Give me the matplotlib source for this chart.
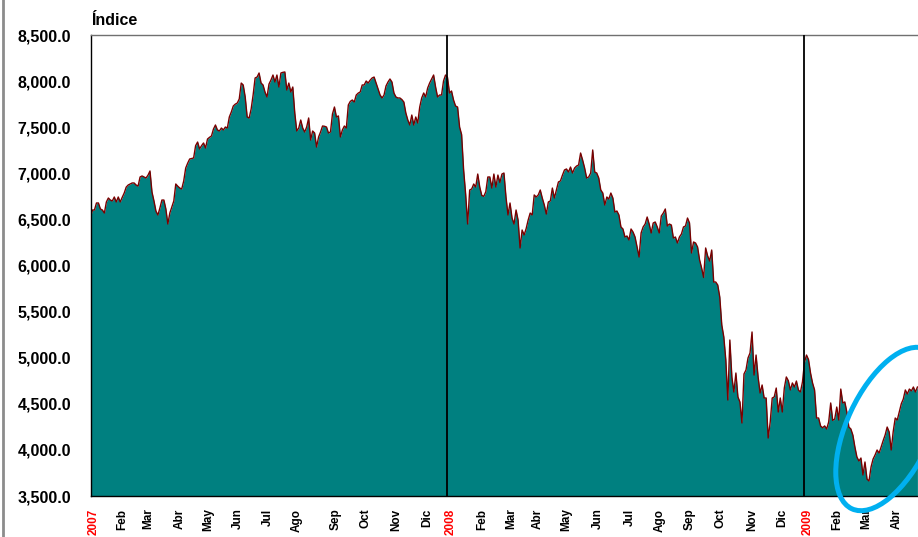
import numpy as np
import matplotlib
matplotlib.use("Agg")
import matplotlib.pyplot as plt
from matplotlib.patches import Ellipse
from matplotlib.lines import Line2D

plt.rcParams["font.family"] = ["Liberation Sans", "DejaVu Sans"]
plt.rcParams["font.weight"] = "bold"

# index level, read every ~2 px off the original chart
vals_2007 = [
    6526, 6602, 6602, 6678, 6678, 6613, 6602, 6569, 6689, 6732,
    6710, 6700, 6743, 6689, 6743, 6689, 6740, 6786, 6850, 6873,
    6884, 6895, 6895, 6873, 6862, 6960, 6971, 6960, 6949, 6980,
    7025, 6797, 6700, 6590, 6548, 6624, 6710, 6710, 6613, 6450,
    6569, 6634, 6700, 6884, 6860, 6840, 6830, 6917, 7057, 7110,
    7155, 7160, 7166, 7300, 7339, 7264, 7300, 7329, 7274, 7372,
    7390, 7405, 7480, 7524, 7470, 7459, 7491, 7470, 7502, 7491,
    7611, 7665, 7730, 7750, 7762, 7806, 7979, 7958, 7828, 7611,
    7600, 7697, 7850, 8034, 8044, 8088, 7979, 7958, 7880, 7828,
    7968, 8012, 8066, 7990, 8066, 7936, 8088, 8095, 8099, 7903,
    7979, 7882, 7936, 7654, 7459, 7491, 7578, 7491, 7448, 7502,
    7600, 7361, 7459, 7437, 7285, 7394, 7448, 7513, 7510, 7502,
    7437, 7448, 7643, 7719, 7611, 7622, 7394, 7470, 7513, 7491,
    7741, 7780, 7795, 7773, 7849, 7870, 7882, 7958, 7958, 8001,
    7979, 8010, 8034, 8044, 7979, 7914, 7850, 7817, 7849, 7947,
    7990, 8023, 7990, 7871, 7828, 7817, 7817, 7800, 7773, 7654,
    7578, 7524, 7632, 7524, 7611, 7546, 7719, 7817, 7871, 7828,
    7925, 7979, 8023, 8066, 7936, 7828, 7849, 7849, 8001, 8066,
]
vals_2008 = [
    8040, 7871, 7893, 7795, 7730, 7719, 7502, 7420, 7036, 6775,
    6450, 6819, 6830, 6884, 6851, 6992, 6850, 6760, 6750, 6800,
    6960, 6960, 6840, 6992, 6851, 6981, 6900, 6992, 7003, 6743,
    6548, 6678, 6515, 6450, 6602, 6493, 6190, 6385, 6331, 6400,
    6493, 6569, 6548, 6765, 6743, 6765, 6819, 6732, 6656, 6558,
    6689, 6700, 6840, 6732, 6819, 6906, 6917, 6980, 7036, 7047,
    7014, 7068, 7003, 7057, 7079, 7090, 7220, 7144, 7057, 6949,
    6960, 7003, 7253, 7014, 7003, 6949, 6819, 6786, 6656, 6743,
    6721, 6786, 6732, 6580, 6591, 6548, 6418, 6396, 6309, 6320,
    6277, 6396, 6363, 6309, 6201, 6092, 6353, 6418, 6450, 6526,
    6450, 6353, 6461, 6472, 6418, 6353, 6537, 6569, 6613, 6428,
    6450, 6439, 6298, 6309, 6244, 6309, 6342, 6418, 6428, 6515,
    6461, 6136, 6255, 6244, 6200, 6060, 5973, 5870, 6190, 6103,
    6049, 6168, 5821, 5821, 5788, 5658, 5355, 5225, 4975, 4541,
    5192, 4791, 4628, 4834, 4574, 4520, 4292, 4823, 4867, 4997,
    5051, 5279, 4812, 5029, 4791, 4617, 4704, 4563, 4563, 4129,
    4300, 4563, 4574, 4671, 4411, 4563, 4411, 4671, 4791, 4750,
    4650, 4726, 4682, 4747, 4650, 4628, 4737,
]
vals_2009 = [
    4950, 5029, 4980, 4834, 4726, 4650, 4346, 4346, 4259, 4240,
    4260, 4227, 4303, 4509, 4320, 4335, 4465, 4324, 4660, 4509,
    4520, 4411, 4248, 4227, 4160, 4031, 3923, 3880, 3912, 3728,
    3869, 3684, 3663, 3814, 3900, 3945, 3999, 3966, 4031, 4100,
    4162, 4248, 4194, 3999, 4200, 4346, 4324, 4411, 4500, 4552,
    4650, 4606, 4660, 4640, 4682, 4628, 4682,
]

month_labels = ["Feb", "Mar", "Abr", "May", "Jun", "Jul", "Ago", "Sep", "Oct", "Nov", "Dic"]
month_pos_2007 = [0.082, 0.156, 0.245, 0.323, 0.407, 0.490, 0.571, 0.682, 0.763, 0.850, 0.936]
month_pos_2008 = [0.090, 0.172, 0.248, 0.327, 0.414, 0.504, 0.589, 0.673, 0.758, 0.848, 0.932]
month_pos_2009 = [0.087, 0.166, 0.251]
years = [2007, 2008, 2009]

# x in years; 2009 uses the same point density as 2008
n08 = len(vals_2008)
x = np.concatenate([
    2007 + np.arange(len(vals_2007)) / len(vals_2007),
    2008 + np.arange(n08) / n08,
    2009 + np.arange(len(vals_2009)) / n08,
])
y = np.array(vals_2007 + vals_2008 + vals_2009, dtype=float)

fig = plt.figure(figsize=(9.18, 5.37), dpi=100)
ax = fig.add_axes([90.5 / 918, 41 / 537, 827.5 / 918, 461 / 537])

ax.fill_between(x, 3500, y, color="#008080", lw=0, zorder=1)
ax.plot(x, y, color="#7a0000", lw=1.0, zorder=2)
for yr in years[1:]:
    ax.axvline(yr, color="black", lw=1.3, zorder=3)

ax.set_xlim(2007, 2009.318)
ax.set_ylim(3500, 8500)
ax.set_yticks(np.arange(3500, 8501, 500))
ax.set_yticklabels([f"{v:,.1f}" for v in np.arange(3500, 8501, 500)], fontsize=11.5, fontweight="bold")
ax.tick_params(axis="y", length=0, pad=14)

ticks, labels, colors = [], [], []
for yr, mpos in zip(years, [month_pos_2007, month_pos_2008, month_pos_2009]):
    ticks.append(yr + 0.008)
    labels.append(str(yr))
    colors.append("#ff0000")
    for m, p in zip(month_labels, mpos):
        ticks.append(yr + p + 0.006)
        labels.append(m)
        colors.append("black")
ax.set_xticks(ticks)
ax.set_xticklabels(labels, rotation=90, fontsize=8.5, fontweight="bold", va="top", ha="center")
for lab, c in zip(ax.get_xticklabels(), colors):
    lab.set_color(c)
ax.tick_params(axis="x", length=0, pad=9)

ax.spines["right"].set_visible(False)
ax.spines["top"].set_color("#707070")
ax.spines["left"].set_color("black")
ax.spines["bottom"].set_color("black")
for s in ["top", "left", "bottom"]:
    ax.spines[s].set_linewidth(1.0)

fig.text(91 / 918, 512 / 537, "Índice", fontsize=11.5, fontweight="bold", ha="left", va="baseline")

# grey outer frame line on the left edge
fig.add_artist(Line2D([2.5 / 918, 2.5 / 918], [0, 1], transform=fig.transFigure, color="#8c8c8c", lw=2))

# blue highlight ring (in inches)
fig.add_artist(Ellipse((8.89, (537 - 429) / 100), width=1.76, height=0.84, angle=65,
                       transform=fig.dpi_scale_trans, fill=False, edgecolor="#00b0f0", lw=3.6))

fig.savefig("out.png", dpi=100)
